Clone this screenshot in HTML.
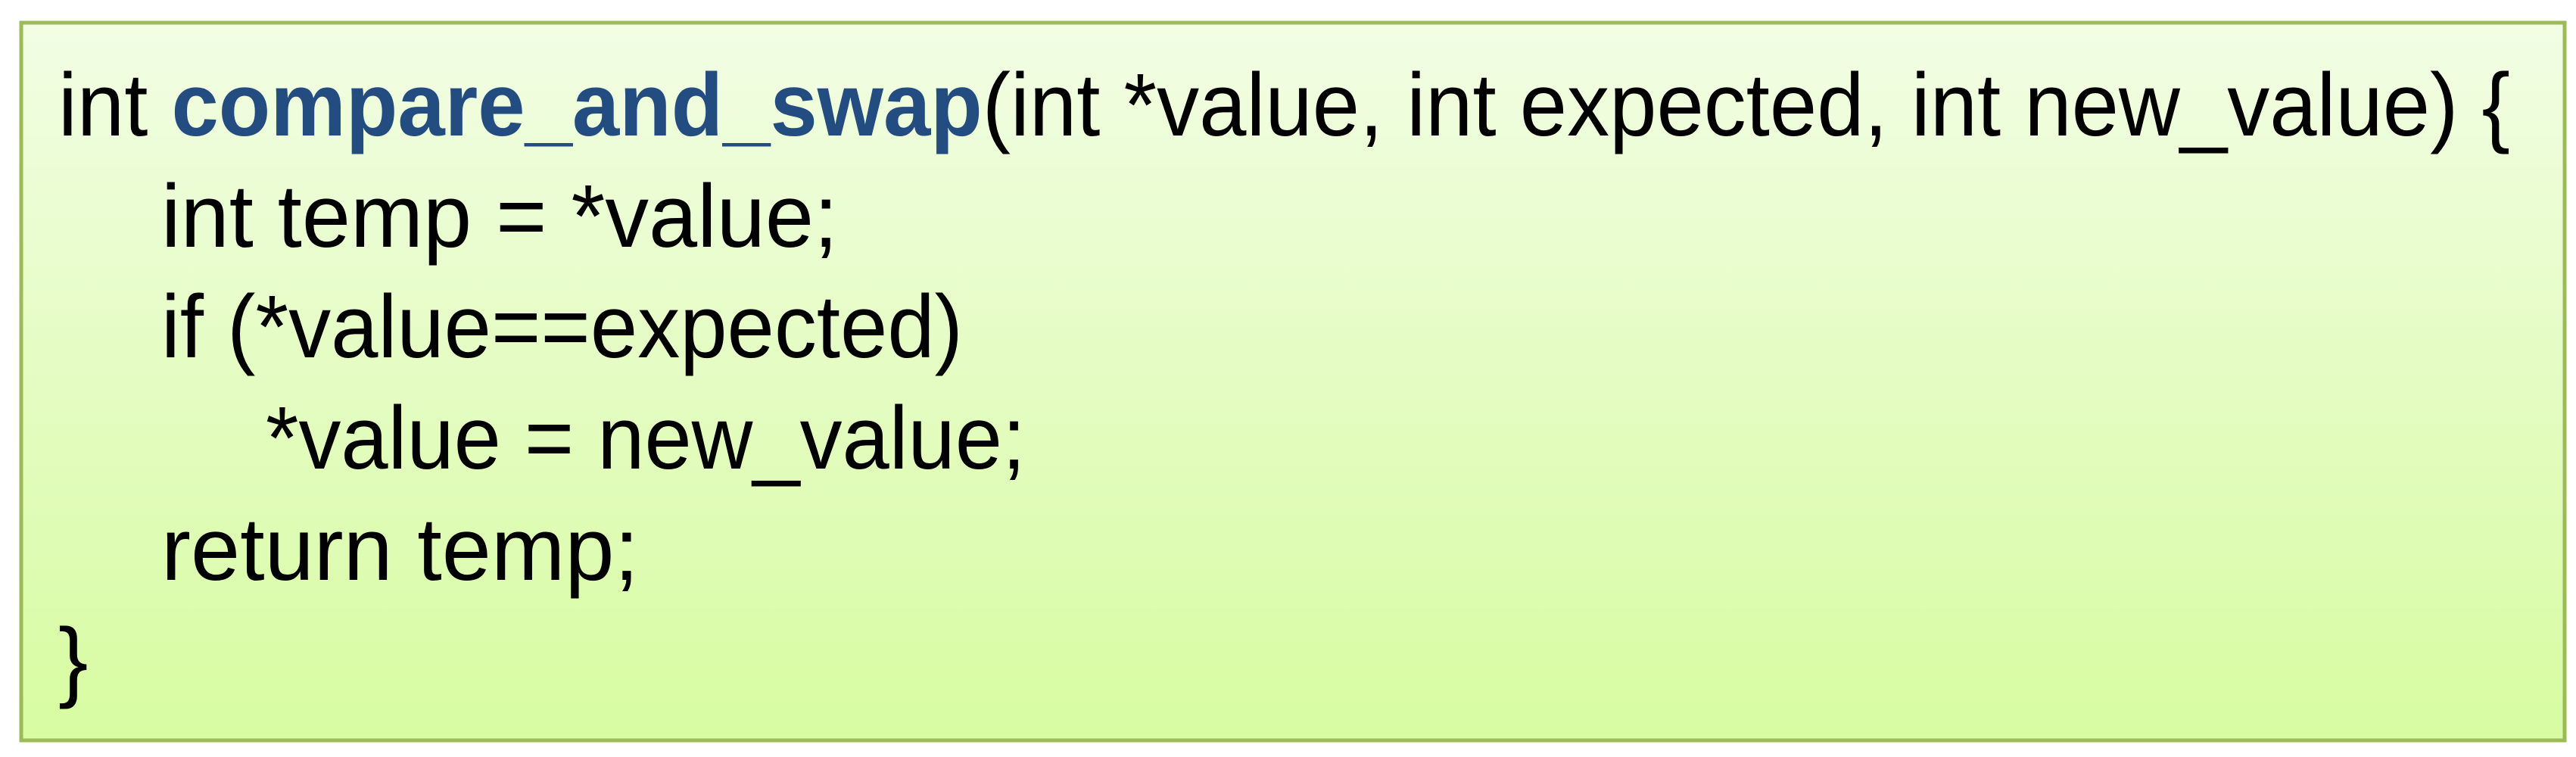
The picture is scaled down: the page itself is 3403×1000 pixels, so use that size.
<!DOCTYPE html>
<html><head><meta charset="utf-8"><style>
html,body{margin:0;padding:0;background:#fff;width:3403px;height:1000px;overflow:hidden}
</style></head><body>
<svg width="3403" height="1000" viewBox="0 0 3403 1000" xmlns="http://www.w3.org/2000/svg">
<defs><linearGradient id="g" x1="0" y1="0" x2="0" y2="1">
<stop offset="0" stop-color="#f2fde4"/><stop offset="1" stop-color="#d7fca1"/></linearGradient></defs>
<rect x="28" y="30" width="3360" height="948" fill="url(#g)" stroke="#9bbb59" stroke-width="5"/>
<g font-family="Liberation Sans, sans-serif" font-size="118" fill="#000">
<text x="77" y="179" textLength="3239" lengthAdjust="spacingAndGlyphs">int <tspan fill="#234c80" font-weight="bold">compare_and_swap</tspan>(int *value, int expected, int new_value) {</text>
<text x="213" y="326" textLength="894" lengthAdjust="spacingAndGlyphs">int temp = *value;</text>
<text x="213" y="472" textLength="1059" lengthAdjust="spacingAndGlyphs">if (*value==expected)</text>
<text x="351" y="619" textLength="1004" lengthAdjust="spacingAndGlyphs">*value = new_value;</text>
<text x="213" y="766" textLength="631" lengthAdjust="spacingAndGlyphs">return temp;</text>
<text x="77" y="912">}</text>
</g>
</svg>
</body></html>
